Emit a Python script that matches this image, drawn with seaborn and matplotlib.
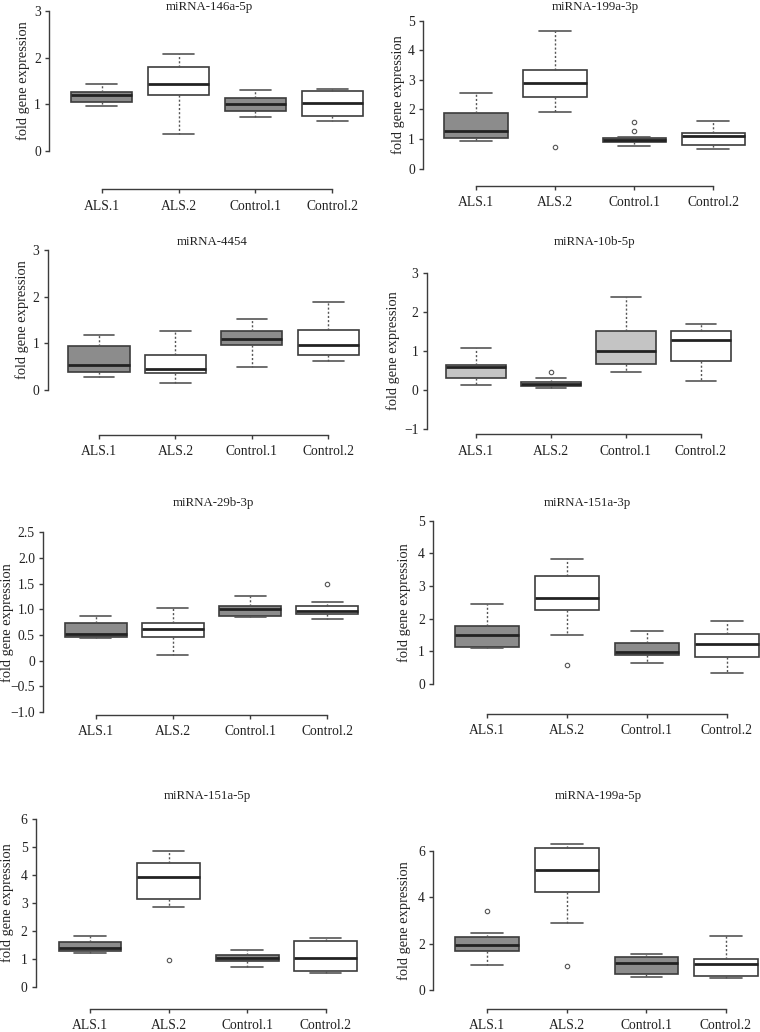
"""Fold gene expression of eight miRNAs, ALS vs control (R-style boxplots)."""
import matplotlib

matplotlib.use("Agg")
import matplotlib.pyplot as plt
import seaborn as sns

GROUPS = ["ALS.1", "ALS.2", "Control.1", "Control.2"]

# per group: [whisker low, Q1, median, Q3, whisker high]
MIR_146A_5P = [[0.96, 1.05, 1.21, 1.27, 1.44], [0.36, 1.19, 1.43, 1.81, 2.08],
               [0.73, 0.86, 1.00, 1.14, 1.31], [0.65, 0.74, 1.03, 1.28, 1.33]]
MIR_146A_5P_OUT = [[], [], [], []]

MIR_199A_3P = [[0.94, 1.04, 1.28, 1.87, 2.56], [1.92, 2.41, 2.88, 3.34, 4.66],
               [0.76, 0.89, 0.97, 1.05, 1.06], [0.65, 0.79, 1.09, 1.21, 1.62]]
MIR_199A_3P_OUT = [[], [0.72], [1.27, 1.57], []]

MIR_4454 = [[0.27, 0.38, 0.53, 0.94, 1.17], [0.16, 0.37, 0.44, 0.76, 1.27],
            [0.49, 0.96, 1.09, 1.27, 1.52], [0.63, 0.74, 0.96, 1.28, 1.88]]
MIR_4454_OUT = [[], [], [], []]

MIR_10B_5P = [[0.13, 0.30, 0.59, 0.63, 1.07], [0.04, 0.10, 0.15, 0.20, 0.31],
              [0.46, 0.67, 1.01, 1.51, 2.38], [0.23, 0.73, 1.29, 1.51, 1.70]]
MIR_10B_5P_OUT = [[], [0.45], [], []]

MIR_29B_3P = [[0.45, 0.47, 0.52, 0.73, 0.87], [0.11, 0.47, 0.61, 0.73, 1.02],
              [0.86, 0.87, 1.01, 1.07, 1.25], [0.81, 0.90, 0.97, 1.06, 1.15]]
MIR_29B_3P_OUT = [[], [], [], [1.50]]

MIR_151A_3P = [[1.09, 1.13, 1.48, 1.77, 2.45], [1.48, 2.27, 2.63, 3.30, 3.83],
               [0.63, 0.88, 0.96, 1.25, 1.62], [0.34, 0.81, 1.22, 1.53, 1.91]]
MIR_151A_3P_OUT = [[], [0.56], [], []]

MIR_151A_5P = [[1.21, 1.27, 1.38, 1.60, 1.81], [2.86, 3.13, 3.92, 4.44, 4.86],
               [0.70, 0.91, 1.02, 1.13, 1.32], [0.48, 0.56, 1.04, 1.65, 1.76]]
MIR_151A_5P_OUT = [[], [0.97], [], []]

MIR_199A_5P = [[1.09, 1.68, 1.93, 2.27, 2.47], [2.89, 4.23, 5.19, 6.14, 6.31],
               [0.55, 0.69, 1.17, 1.41, 1.55], [0.50, 0.62, 1.12, 1.35, 2.32]]
MIR_199A_5P_OUT = [[3.40], [1.04], [], []]

TITLES = ["miRNA-146a-5p", "miRNA-199a-3p", "miRNA-4454", "miRNA-10b-5p",
          "miRNA-29b-3p", "miRNA-151a-3p", "miRNA-151a-5p", "miRNA-199a-5p"]
STATS = [MIR_146A_5P, MIR_199A_3P, MIR_4454, MIR_10B_5P,
         MIR_29B_3P, MIR_151A_3P, MIR_151A_5P, MIR_199A_5P]
OUTLIERS = [MIR_146A_5P_OUT, MIR_199A_3P_OUT, MIR_4454_OUT, MIR_10B_5P_OUT,
            MIR_29B_3P_OUT, MIR_151A_3P_OUT, MIR_151A_5P_OUT, MIR_199A_5P_OUT]
YTICKS = [[0, 1, 2, 3], [0, 1, 2, 3, 4, 5], [0, 1, 2, 3], [-1, 0, 1, 2, 3],
          [-1.0, -0.5, 0, 0.5, 1.0, 1.5, 2.0, 2.5], [0, 1, 2, 3, 4, 5],
          [0, 1, 2, 3, 4, 5, 6], [0, 2, 4, 6]]

# ---- layout (pixels on a 760x1032 canvas) ----------------------------------
W, H = 760, 1032
# x of group 1, x of group 4, y of lowest tick, y of highest tick,
# y-axis line x, x-axis line y, ylabel centre x, title centre (x, y)
LAYOUT = [
    (101.7, 332.3, 151.0, 11.0, 49.3, 189.3, 23.0, (209, 7)),
    (476.0, 713.3, 168.7, 20.7, 423.3, 186.0, 398.0, (595, 7)),
    (99.0, 328.3, 390.0, 250.0, 47.7, 435.0, 22.0, (212, 242)),
    (476.0, 700.7, 428.7, 273.3, 426.7, 434.3, 393.0, (595, 242)),
    (95.7, 327.3, 712.0, 532.3, 43.3, 715.0, 7.5, (213, 503)),
    (487.3, 726.7, 683.7, 520.7, 433.3, 713.7, 404.0, (587, 503)),
    (90.0, 325.7, 986.7, 819.3, 36.0, 1008.7, 7.5, (207, 796)),
    (487.3, 726.0, 990.0, 851.0, 433.3, 1008.7, 404.0, (598, 796)),
]
DARK, LIGHT, WHITE = "#8c8c8c", "#c4c4c4", "#ffffff"
FILLS = [[DARK, WHITE, DARK, WHITE]] * 8
FILLS[3] = [LIGHT, WHITE, LIGHT, WHITE]
EDGE = "#3c3c3c"
TEXT = "#222222"


def px2pt(px):
    return px * 72.0 / 100.0


def fmt_tick(v):
    if v == 0:
        return "0"
    s = f"{v:d}" if isinstance(v, int) else f"{v:.1f}"
    return s.replace("-", "\u2212")


sns.set_style("ticks")
plt.rcParams["font.family"] = ["Liberation Serif", "DejaVu Serif"]
plt.rcParams["axes.linewidth"] = 1.0

fig = plt.figure(figsize=(W / 100, H / 100), dpi=100)

for i in range(8):
    x1, x4, ylo_px, yhi_px, yax_x, xax_y, ylab_x, (tx, ty) = LAYOUT[i]
    step = (x4 - x1) / 3.0
    left_px, right_px = x1 - 0.5 * step, x4 + 0.5 * step
    ax = fig.add_axes([left_px / W, 1 - ylo_px / H,
                       (right_px - left_px) / W, (ylo_px - yhi_px) / H])
    ax.patch.set_alpha(0)

    stats = []
    for g, s, out in zip(GROUPS, STATS[i], OUTLIERS[i]):
        stats.append(dict(label=g, whislo=s[0], q1=s[1], med=s[2], q3=s[3],
                          whishi=s[4], fliers=out))
    art = ax.bxp(
        stats, positions=[1, 2, 3, 4], widths=0.8, patch_artist=True,
        boxprops=dict(edgecolor=EDGE, linewidth=1.2),
        medianprops=dict(color=TEXT, linewidth=2.0),
        whiskerprops=dict(color="#555555", linewidth=1.0, linestyle=(0, (1.5, 1.5))),
        capprops=dict(color="#555555", linewidth=1.2),
        flierprops=dict(marker="o", markerfacecolor="none",
                        markeredgecolor="#555555", markersize=3.2, markeredgewidth=0.8),
    )
    for patch, c in zip(art["boxes"], FILLS[i]):
        patch.set_facecolor(c)
    for key in art:
        for a in art[key]:
            a.set_clip_on(False)

    yt = YTICKS[i]
    ax.set_xlim(0.5, 4.5)
    ax.set_ylim(yt[0], yt[-1])
    ax.set_yticks(yt)
    ax.set_yticklabels([fmt_tick(v) for v in yt])
    ax.set_xticks([1, 2, 3, 4])
    ax.set_xticklabels(GROUPS)

    sns.despine(ax=ax, offset={"left": px2pt(left_px - yax_x),
                               "bottom": px2pt(xax_y - ylo_px)})
    ax.spines["left"].set_bounds(yt[0], yt[-1])
    ax.spines["bottom"].set_bounds(1, 4)
    for sp in ("left", "bottom"):
        ax.spines[sp].set_color(EDGE)
    ax.tick_params(axis="both", length=3, width=1.0, color=EDGE,
                   labelsize=9.8, labelcolor=TEXT)
    ax.tick_params(axis="x", pad=4.5)
    ax.tick_params(axis="y", pad=3)

    ax.set_ylabel("fold gene expression", fontsize=10.4, color=TEXT)
    ax.yaxis.label.set_va("center")
    ax.yaxis.set_label_coords((ylab_x - left_px) / (right_px - left_px), 0.5)
    ax.set_xlabel("")
    fig.text(tx / W, 1 - ty / H, TITLES[i], ha="center", va="center",
             fontsize=9.3, color=TEXT)

fig.savefig("out.png", dpi=100)
